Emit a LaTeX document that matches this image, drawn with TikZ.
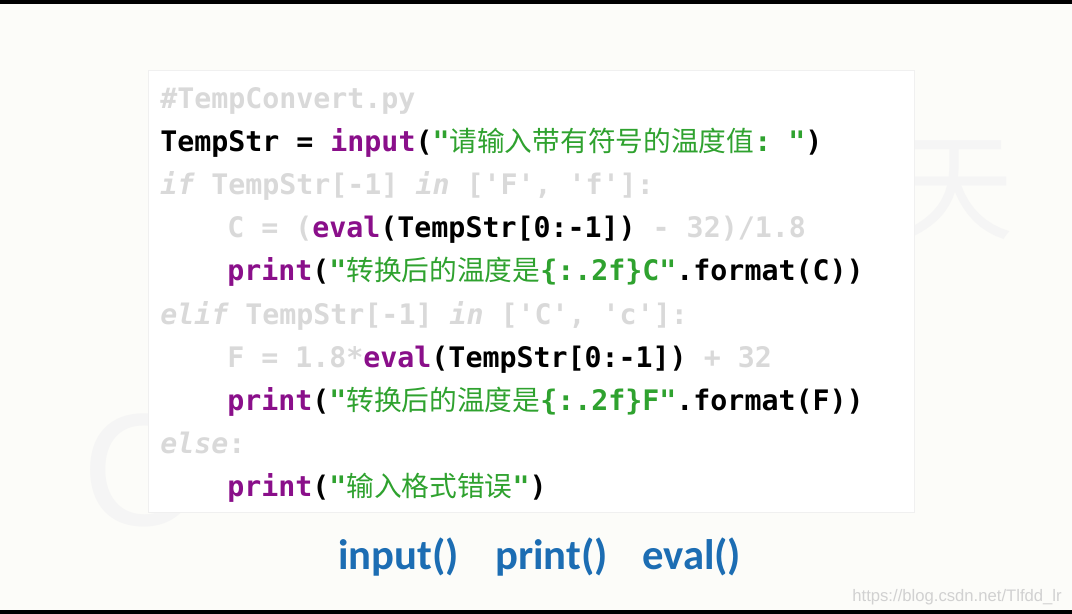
\documentclass[tikz,border=0pt]{standalone}
\usepackage{fontspec}
\newfontfamily\cmono{DejaVu Sans Mono}
\newfontfamily\cjkf{Noto Sans CJK SC}[Scale=0.98]
\newcommand{\cjk}{\cjkf\mdseries}
\newfontfamily\bsans{Carlito}
\newfontfamily\wsans{Liberation Sans}
\definecolor{bgc}{HTML}{FCFCF9}
\definecolor{gry}{HTML}{D9D9D9}
\definecolor{pur}{HTML}{8A0F8A}
\definecolor{grn}{HTML}{2FA22F}
\definecolor{blu}{HTML}{1C6DB3}
\newcommand{\G}[1]{\textcolor{gry}{#1}}
\newcommand{\GI}[1]{\textcolor{gry}{\itshape #1}}
\newcommand{\Pp}[1]{\textcolor{pur}{#1}}
\newcommand{\Gr}[1]{\textcolor{grn}{#1}}
\begin{document}
\begin{tikzpicture}[x=0.75pt,y=-0.75pt,
  code/.style={anchor=base west,inner sep=0,font=\cmono\bfseries\fontsize{21.2}{24}\selectfont},
  fn/.style={anchor=base west,inner sep=0,text=blu,font=\bsans\bfseries\fontsize{32}{34}\selectfont}]
\useasboundingbox (0,0) rectangle (1072,614);
\fill[bgc] (0,0) rectangle (1072,614);
\fill[black] (0,0) rectangle (1072,4);
\fill[black] (0,610) rectangle (1072,614);
\node[text=black!4,font=\cjk\fontsize{90}{90}\selectfont] (wm1) at (955,190) {天};
\node[text=black!4,font=\wsans\fontsize{120}{120}\selectfont] (wm2) at (140,470) {C};
\node[draw=black!6,fill=white,minimum width=766*0.75pt,minimum height=442*0.75pt,inner sep=0,anchor=north west] (box) at (148,70) {};
\node[code] (l1) at (160,108) {\G{\string#TempConvert.py}};
\node[code] (l2) at (160,151.2) {TempStr = \Pp{input}(\Gr{"{\cjk 请输入带有符号的温度值}:\ "})};
\node[code] (l3) at (160,194.4) {\GI{if}\G{\ TempStr[-1]\ }\GI{in}\G{\ ['F',\ 'f']:}};
\node[code] (l4) at (227,237.6) {\G{C\ =\ (}\Pp{eval}(TempStr[0:-1])\G{\ -\ 32)/1.8}};
\node[code] (l5) at (227,280.8) {\Pp{print}(\Gr{"{\cjk 转换后的温度是}\{:.2f\}C"}.format(C))};
\node[code] (l6) at (160,324) {\GI{elif}\G{\ TempStr[-1]\ }\GI{in}\G{\ ['C',\ 'c']:}};
\node[code] (l7) at (227,367.2) {\G{F\ =\ 1.8*}\Pp{eval}(TempStr[0:-1])\G{\ +\ 32}};
\node[code] (l8) at (227,410.4) {\Pp{print}(\Gr{"{\cjk 转换后的温度是}\{:.2f\}F"}.format(F))};
\node[code] (l9) at (160,453.6) {\GI{else}\G{:}};
\node[code] (l10) at (227,496.8) {\Pp{print}(\Gr{"{\cjk 输入格式错误}"})};
\node[fn] (f1) at (338,569) {input()};
\node[fn] (f2) at (495,569) {print()};
\node[fn] (f3) at (642,569) {eval()};
\node[anchor=base east,inner sep=0,text=black!18,font=\wsans\fontsize{12.5}{14}\selectfont] (url) at (1062,601) {https://blog.csdn.net/Tlfdd\_lr};
\end{tikzpicture}
\end{document}
